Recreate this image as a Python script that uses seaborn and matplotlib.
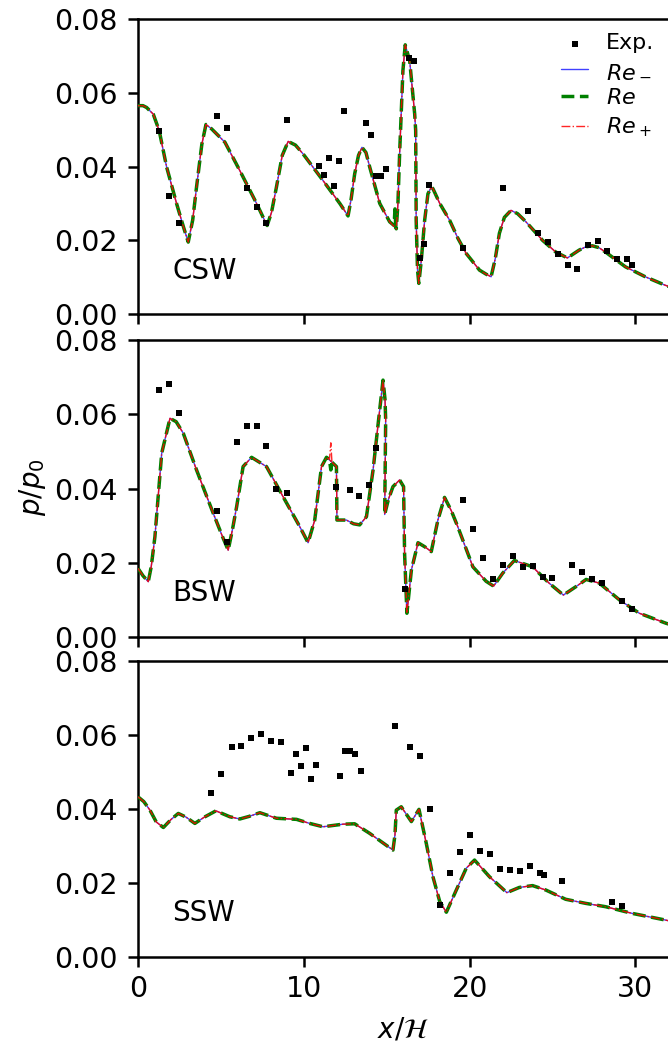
import matplotlib
matplotlib.use("Agg")
import matplotlib.pyplot as plt
import seaborn as sns
import pandas as pd

# ---------------- data ----------------
# CSW simulated curve
csw_x = [0.0, 0.3, 0.52, 0.92, 1.28, 1.73, 2.33, 2.75, 3.03, 3.3, 3.53, 3.85, 4.1, 4.44, 5.24, 6.14,
         7.15, 7.55, 7.79, 8.05, 8.35, 8.7, 9.06, 9.5, 9.96, 11.16, 12.17, 12.67, 12.85, 13.07,
         13.3, 13.51, 13.75, 13.98, 14.58, 15.18, 15.58, 15.68, 15.78, 15.98, 16.12, 16.39,
         16.69, 16.75, 16.78, 16.86, 16.94, 17.09, 17.29, 17.49, 17.69, 17.79, 18.2, 18.8, 19.3,
         19.8, 20.6, 21.0, 21.3, 21.55, 21.8, 22.1, 22.5, 22.9, 23.4, 24.4, 25.2, 25.9, 26.6,
         27.0, 27.4, 27.8, 28.2, 29.4, 30.6, 31.8, 32.0]
csw_y = [0.0565, 0.0565, 0.0560, 0.0542, 0.0497, 0.0398, 0.0299, 0.0235, 0.0195, 0.0255, 0.0344,
         0.0460, 0.0514, 0.0502, 0.0466, 0.0389, 0.0300, 0.0262, 0.0240, 0.0275, 0.0344, 0.0430,
         0.0468, 0.0458, 0.0434, 0.0362, 0.0300, 0.0266, 0.0310, 0.0380, 0.0430, 0.0452, 0.0438,
         0.0398, 0.0300, 0.0250, 0.0231, 0.0300, 0.0434, 0.0660, 0.0730, 0.0686, 0.0542, 0.0497,
         0.0254, 0.0120, 0.0083, 0.0146, 0.0254, 0.0326, 0.0344, 0.0340, 0.0300, 0.0254, 0.0205,
         0.0164, 0.0119, 0.0108, 0.0101, 0.0150, 0.0219, 0.0262, 0.0281, 0.0272, 0.0250, 0.0200,
         0.0168, 0.0152, 0.0173, 0.0182, 0.0185, 0.0180, 0.0168, 0.0128, 0.0101, 0.0078, 0.0075]
# small jag visible only in the "Re" curve of CSW
csw_re_jag_x = [15.45, 15.5, 15.55]
csw_re_jag_y = [0.0240, 0.0285, 0.0236]

csw_exp_x = [1.28, 1.87, 2.45, 4.74, 5.34, 6.55, 7.15, 7.75, 8.96, 10.92, 11.22, 11.5, 11.83, 12.13,
             12.41, 13.75, 14.08, 14.38, 14.68, 14.98, 16.33, 16.63, 16.99, 17.23, 17.53, 19.6,
             22.0, 23.5, 24.11, 24.72, 25.32, 25.92, 26.49, 27.13, 27.73, 28.3, 28.9, 29.5, 29.8]
csw_exp_y = [0.0497, 0.0320, 0.0247, 0.0537, 0.0505, 0.0343, 0.0290, 0.0247, 0.0526, 0.0401,
             0.0377, 0.0423, 0.0348, 0.0414, 0.0551, 0.0518, 0.0486, 0.0375, 0.0374, 0.0392,
             0.0695, 0.0685, 0.0153, 0.0191, 0.0349, 0.0180, 0.0341, 0.0279, 0.0221, 0.0195,
             0.0164, 0.0134, 0.0121, 0.0186, 0.0198, 0.0171, 0.0149, 0.0148, 0.0134]

# BSW simulated curve
bsw_x = [0.0, 0.3, 0.62, 0.8, 1.02, 1.43, 1.93, 2.3, 2.73, 3.53, 4.54, 5.1, 5.44, 5.7, 5.95, 6.34,
         6.85, 7.75, 8.75, 9.76, 10.26, 10.66, 11.07, 11.37, 11.6, 11.97, 12.0, 12.57, 13.0,
         13.37, 13.78, 14.18, 14.5, 14.78, 14.9, 14.94, 14.88, 15.1, 15.38, 15.78, 16.02, 16.08,
         16.22, 16.49, 16.89, 17.3, 17.69, 18.09, 18.49, 18.9, 19.29, 20.2, 21.0, 21.45, 22.0,
         22.7, 23.8, 24.8, 25.66, 26.43, 27.03, 27.83, 29.04, 30.24, 31.85, 32.0]
bsw_y = [0.0185, 0.0165, 0.0149, 0.0190, 0.0270, 0.0495, 0.0589, 0.0580, 0.0549, 0.0450, 0.0333,
         0.0270, 0.0234, 0.0290, 0.0351, 0.0459, 0.0484, 0.0459, 0.0378, 0.0297, 0.0254, 0.0315,
         0.0459, 0.0484, 0.0475, 0.0459, 0.0315, 0.0315, 0.0305, 0.0302, 0.0324, 0.0450, 0.0580,
         0.0692, 0.0640, 0.0585, 0.0330, 0.0370, 0.0405, 0.0423, 0.0405, 0.0226, 0.0064, 0.0180,
         0.0254, 0.0243, 0.0230, 0.0315, 0.0376, 0.0340, 0.0297, 0.0189, 0.0150, 0.0137, 0.0172,
         0.0206, 0.0189, 0.0145, 0.0113, 0.0136, 0.0155, 0.0145, 0.0100, 0.0064, 0.0037, 0.0035]
# small spikes near x = 11.6 (Re+ goes up, Re goes down)
bsw_rep_spike_x = [11.55, 11.63, 11.7]
bsw_rep_spike_y = [0.0478, 0.0523, 0.0470]
bsw_re_spike_x = [11.55, 11.63, 11.7]
bsw_re_spike_y = [0.0478, 0.0450, 0.0470]

bsw_exp_x = [1.28, 1.87, 2.47, 4.74, 5.34, 5.95, 6.55, 7.15, 7.75, 8.35, 8.96, 11.96, 12.77, 13.33,
             13.92, 14.34, 16.08, 19.6, 20.2, 20.8, 21.4, 22.0, 22.6, 23.2, 23.8, 24.4, 25.0,
             26.2, 26.8, 27.4, 27.99, 29.2, 29.8]
bsw_exp_y = [0.0664, 0.0682, 0.0604, 0.0340, 0.0255, 0.0525, 0.0568, 0.0568, 0.0515, 0.0398,
             0.0388, 0.0405, 0.0395, 0.0380, 0.0410, 0.0510, 0.0128, 0.0368, 0.0291, 0.0212,
             0.0157, 0.0193, 0.0219, 0.0188, 0.0191, 0.0161, 0.0159, 0.0195, 0.0174, 0.0156,
             0.0145, 0.0097, 0.0075]

# SSW simulated curve
ssw_x = [0.0, 0.35, 0.72, 1.1, 1.53, 2.0, 2.43, 2.9, 3.43, 4.0, 4.7, 5.54, 6.14, 6.7, 7.35, 8.35,
         9.56, 10.36, 11.16, 12.37, 13.07, 13.98, 15.38, 15.5, 15.58, 15.88, 16.2, 16.49, 16.95,
         17.39, 17.79, 18.2, 18.6, 19.2, 19.8, 20.3, 21.2, 22.25, 23.0, 23.8, 24.6, 25.8, 27.0,
         28.2, 29.8, 31.8, 32.0]
ssw_y = [0.0433, 0.0420, 0.0397, 0.0365, 0.0350, 0.0372, 0.0388, 0.0378, 0.0361, 0.0378, 0.0395,
         0.0379, 0.0373, 0.0380, 0.0390, 0.0375, 0.0372, 0.0361, 0.0352, 0.0359, 0.0360, 0.0334,
         0.0289, 0.0330, 0.0397, 0.0406, 0.0385, 0.0366, 0.0399, 0.0307, 0.0217, 0.0150, 0.0121,
         0.0181, 0.0240, 0.0262, 0.0217, 0.0174, 0.0188, 0.0193, 0.0181, 0.0156, 0.0145, 0.0136,
         0.0118, 0.0100, 0.0098]

ssw_exp_x = [4.42, 5.02, 5.64, 6.22, 6.83, 7.43, 8.03, 8.61, 9.52, 9.24, 9.84, 10.12, 10.42, 10.72,
             12.21, 12.51, 12.81, 13.11, 13.43, 15.5, 16.43, 17.03, 17.63, 18.21, 18.81, 19.42,
             20.02, 20.62, 21.22, 21.83, 22.43, 23.03, 23.63, 24.22, 24.52, 25.58, 28.6, 29.2]
ssw_exp_y = [0.0444, 0.0494, 0.0568, 0.0570, 0.0593, 0.0604, 0.0584, 0.0581, 0.0548, 0.0496,
             0.0515, 0.0564, 0.0481, 0.0520, 0.0489, 0.0556, 0.0556, 0.0549, 0.0503, 0.0625,
             0.0567, 0.0542, 0.0399, 0.0140, 0.0228, 0.0285, 0.0330, 0.0286, 0.0278, 0.0238,
             0.0235, 0.0233, 0.0245, 0.0228, 0.0221, 0.0206, 0.0148, 0.0137]

panel_labels = ["CSW", "BSW", "SSW"]
legend_labels = ["Exp.", "$Re_-$", "$Re$", "$Re_+$"]
x_ticks = [0, 10, 20, 30]
y_ticks = [0.00, 0.02, 0.04, 0.06, 0.08]


def with_insert(xs, ys, ix, iy):
    out_x, out_y = [], []
    inserted = False
    for x, y in zip(xs, ys):
        if not inserted and x > ix[0]:
            out_x.extend(ix)
            out_y.extend(iy)
            inserted = True
        out_x.append(x)
        out_y.append(y)
    return out_x, out_y


panels = [
    dict(x=csw_x, y=csw_y, ex=csw_exp_x, ey=csw_exp_y,
         re=with_insert(csw_x, csw_y, csw_re_jag_x, csw_re_jag_y), rep=(csw_x, csw_y)),
    dict(x=bsw_x, y=bsw_y, ex=bsw_exp_x, ey=bsw_exp_y,
         re=with_insert(bsw_x, bsw_y, bsw_re_spike_x, bsw_re_spike_y),
         rep=with_insert(bsw_x, bsw_y, bsw_rep_spike_x, bsw_rep_spike_y)),
    dict(x=ssw_x, y=ssw_y, ex=ssw_exp_x, ey=ssw_exp_y,
         re=(ssw_x, ssw_y), rep=(ssw_x, ssw_y)),
]

# ---------------- style ----------------
sns.set_style("ticks")
plt.rcParams.update({
    "font.family": ["DejaVu Sans"],
    "mathtext.fontset": "dejavusans",
    "axes.linewidth": 1.8,
    "xtick.major.width": 1.8,
    "ytick.major.width": 1.8,
    "xtick.major.size": 7,
    "ytick.major.size": 7,
    "xtick.major.pad": 6,
    "ytick.major.pad": 7.5,
    "xtick.direction": "out",
    "ytick.direction": "out",
    "xtick.labelsize": 20.5,
    "ytick.labelsize": 20.5,
    "axes.edgecolor": "black",
    "xtick.color": "black",
    "ytick.color": "black",
    "text.color": "black",
    "axes.labelcolor": "black",
})

W, H = 668, 1050
fig = plt.figure(figsize=(W / 100, H / 100), dpi=100)
rects_px = [(19, 314), (340, 637), (661, 957)]
left_px, right_px = 138, 668.5

axes = []
for (top, bot) in rects_px:
    ax = fig.add_axes([left_px / W, 1 - bot / H, (right_px - left_px) / W, (bot - top) / H])
    axes.append(ax)

for i, (ax, p, lab) in enumerate(zip(axes, panels, panel_labels)):
    df_m = pd.DataFrame({"x": p["x"], "y": p["y"]})
    df_r = pd.DataFrame({"x": p["re"][0], "y": p["re"][1]})
    df_p = pd.DataFrame({"x": p["rep"][0], "y": p["rep"][1]})
    df_e = pd.DataFrame({"x": p["ex"], "y": p["ey"]})

    sns.scatterplot(data=df_e, x="x", y="y", ax=ax, marker="s", s=24, color="black",
                    linewidth=0, label=legend_labels[0], zorder=5)
    sns.lineplot(data=df_m, x="x", y="y", ax=ax, sort=False, estimator=None, color="blue",
                 lw=1.0, alpha=0.75, label=legend_labels[1], zorder=2)
    sns.lineplot(data=df_r, x="x", y="y", ax=ax, sort=False, estimator=None, color="green",
                 lw=2.5, ls="--", label=legend_labels[2], zorder=3)
    sns.lineplot(data=df_p, x="x", y="y", ax=ax, sort=False, estimator=None, color="red",
                 lw=1.0, ls="-.", alpha=0.85, label=legend_labels[3], zorder=4)

    ax.set_xlim(0, 32)
    ax.set_ylim(0, 0.08)
    ax.set_xticks(x_ticks)
    ax.set_yticks(y_ticks)
    ax.set_yticklabels([f"{v:.2f}" for v in y_ticks])
    ax.set_xlabel("")
    ax.set_ylabel("")
    for s in ax.spines.values():
        s.set_visible(True)
        s.set_linewidth(1.8)
    if i < 2:
        ax.set_xticklabels([])
    ax.text(0.065, 0.12, lab, transform=ax.transAxes, fontsize=20, ha="left",
            va="baseline", color="black")

    if i == 0:
        leg = ax.legend(loc="upper right", frameon=False, fontsize=16, handlelength=1.2,
                        handletextpad=0.8, labelspacing=0.33, borderaxespad=0.4,
                        borderpad=0.25, markerscale=1.0)
        for t in leg.get_texts():
            t.set_color("black")
    else:
        leg = ax.get_legend()
        if leg is not None:
            leg.remove()

fig.text(32 / W, 1 - 487 / H, "$p/p_0$", rotation=90, fontsize=20, ha="center", va="center")
fig.text(403 / W, 1 - 1030 / H, r"$x/\mathcal{H}$", fontsize=20, ha="center", va="center")

fig.savefig("out.png", dpi=100)
